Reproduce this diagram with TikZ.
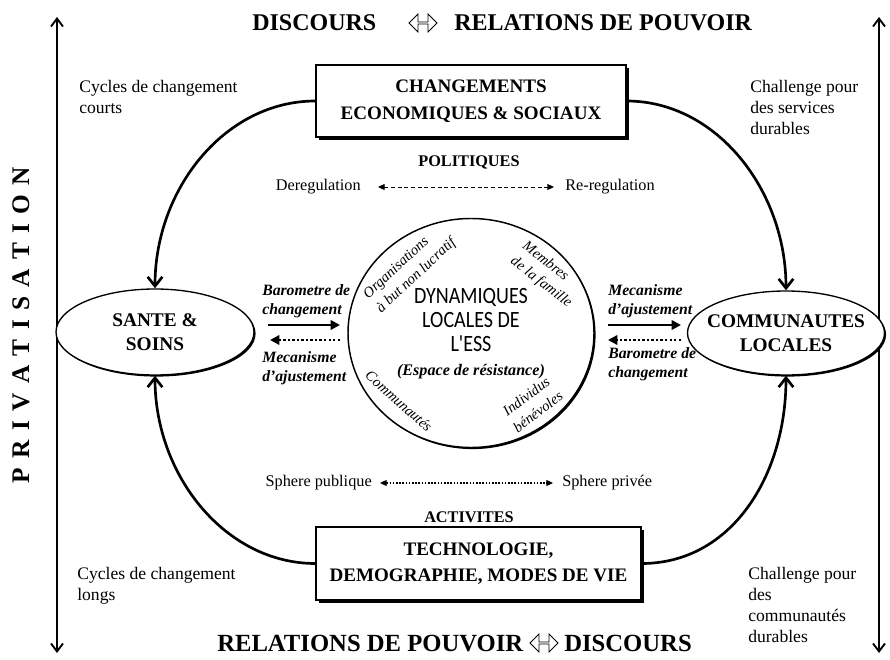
\documentclass[tikz,border=0pt]{standalone}
\usepackage{fontspec}
\setmainfont{Liberation Serif}
\newfontfamily\essfont[FakeStretch=0.86]{Carlito}
\usetikzlibrary{arrows.meta,shapes.geometric,shapes.arrows,shadows}
\newcommand\privsp{\hspace{7pt}}
\begin{document}
\begin{tikzpicture}[x=0.75pt,y=-0.75pt,
  bigbox/.style={draw,line width=0.9pt,fill=white,align=center,inner sep=0pt,
    font=\fontsize{14.3}{20}\selectfont\bfseries,
    drop shadow={shadow xshift=2.2pt,shadow yshift=-2.2pt,fill=black,opacity=1}},
  oval/.style={ellipse,draw,line width=1pt,fill=white,inner sep=0pt,
    drop shadow={shadow xshift=1.2pt,shadow yshift=-1.2pt,fill=black,opacity=1}},
  ovaltxt/.style={align=center,inner sep=0pt,font=\fontsize{14.5}{18}\selectfont\bfseries},
  essbox/.style={ellipse,draw,line width=1.1pt,fill=white,inner sep=0pt,
    drop shadow={shadow xshift=1.2pt,shadow yshift=-1.2pt,fill=black,opacity=1}},
  esstxt/.style={align=center,inner sep=0pt,font=\essfont\fontsize{17.5}{18}\selectfont},
  ttl/.style={inner sep=0pt,anchor=base west,font=\fontsize{18}{20}\selectfont\bfseries},
  ttlb/.style={inner sep=0pt,anchor=base west,font=\fontsize{18.5}{20}\selectfont\bfseries},
  dblarr/.style={double arrow,draw,line width=0.6pt,minimum height=21pt,minimum width=13.5pt,
    double arrow head extend=2.5pt,inner sep=0pt},
  priv/.style={inner sep=0pt,rotate=90,font=\fontsize{19}{20}\selectfont\bfseries},
  sidetxt/.style={align=left,inner sep=0pt,anchor=north west,font=\fontsize{13.2}{15.75}\selectfont},
  midlbl/.style={inner sep=0pt,font=\fontsize{12.2}{14}\selectfont},
  headlbl/.style={inner sep=0pt,font=\fontsize{12.2}{14}\selectfont\bfseries},
  baro/.style={align=left,inner sep=0pt,anchor=north west,font=\fontsize{11.8}{14.5}\selectfont\bfseries\itshape},
  smallit/.style={align=left,inner sep=0pt,font=\fontsize{11}{14.5}\selectfont\itshape},
  looparr/.style={line width=2pt,-{Straight Barb[length=7pt,width=11pt]}},
  sidearr/.style={line width=1.4pt,{Straight Barb[length=6pt,width=9pt]}-{Straight Barb[length=6pt,width=9pt]}},
  solidarr/.style={line width=2.2pt,-{Triangle[length=7pt,width=7pt]}},
  dotarr/.style={line width=2.2pt,dash pattern=on 1.8pt off 1.6pt,-{Triangle[length=7pt,width=7pt]}},
  dasharr/.style={line width=0.7pt,dash pattern=on 3pt off 2pt,{Triangle[length=5pt,width=4.5pt]}-{Triangle[length=5pt,width=4.5pt]}},
  dotdarr/.style={line width=0.8pt,dash pattern=on 1.2pt off 1.2pt,{Triangle[length=5pt,width=4.5pt]}-{Triangle[length=5pt,width=4.5pt]}}
]
\useasboundingbox (0,0) rectangle (890,660);
\fill[white] (0,0) rectangle (890,660);

% side arrows
\coordinate (ltop) at (57,17);
\coordinate (lbot) at (57,653);
\coordinate (rtop) at (879,17);
\coordinate (rbot) at (879,653);
\draw[sidearr] (lbot) -- (ltop);
\draw[sidearr] (rbot) -- (rtop);

% privatisation
\node[priv] (priv) at (21,325) {P\privsp R\privsp I\privsp V\privsp A\privsp T\privsp I\privsp S\privsp A\privsp T\privsp I\privsp O\privsp N};

% titles
\node[ttl] (t1) at (252,31) {DISCOURS};
\node[dblarr] (t2) at (423,23) {};
\node[ttl] (t3) at (454,31) {RELATIONS DE POUVOIR};
\node[ttlb] (b1) at (217,651) {RELATIONS DE POUVOIR};
\node[dblarr] (b2) at (544,643) {};
\node[ttlb] (b3) at (564,651) {DISCOURS};

% boxes
\node[bigbox,minimum width=232.5pt,minimum height=54pt] (topbox) at (471,101) {CHANGEMENTS\\ECONOMIQUES \& SOCIAUX};
\node[bigbox,minimum width=243.75pt,minimum height=54.75pt] (botbox) at (478.5,563.5) {TECHNOLOGIE,\\DEMOGRAPHIE, MODES DE VIE};

% ovals
\node[oval,minimum width=148.5pt,minimum height=64.5pt] (sante) at (155,332) {};
\node[ovaltxt] (santetxt) at (sante) {SANTE \&\\SOINS};
\node[oval,minimum width=147.75pt,minimum height=63pt] (comm) at (786,333) {};
\node[ovaltxt] (commtxt) at (comm) {COMMUNAUTES\\LOCALES};

% ESS circle
\node[essbox,minimum width=184.5pt,minimum height=171.75pt] (ess) at (471,333) {};
\node[esstxt] (esst) at (471,334)
  {DYNAMIQUES\\LOCALES DE\\L'ESS\\{\rmfamily\bfseries\itshape\fontsize{12.1}{14}\selectfont (Espace de résistance)}};

% rotated inner texts
\node[smallit,rotate=43] (org) at (410,269) {Organisations\\à but non lucratif};
\node[smallit,rotate=-38] (mem) at (547,275) {Membres\\de la famille};
\node[smallit,rotate=-42] (cmt) at (399,401) {Communautés};
\node[smallit,align=center,rotate=37] (ind) at (532,404) {Individus\\bénévoles};

% side texts
\node[sidetxt] (cyc1) at (79,80) {Cycles de changement\\courts};
\node[sidetxt] (chal1) at (750,80) {Challenge pour\\des services\\durables};
\node[sidetxt] (cyc2) at (77,567) {Cycles de changement\\longs};
\node[sidetxt] (chal2) at (748,567) {Challenge pour\\des\\communautés\\durables};

% middle labels
\node[headlbl] (pol) at (469,162) {POLITIQUES};
\node[midlbl,anchor=mid east] (dereg) at (361,187) {Deregulation};
\node[midlbl,anchor=mid west] (rereg) at (565,187) {Re-regulation};
\node[midlbl,anchor=mid east] (sphpub) at (372,483) {Sphere publique};
\node[midlbl,anchor=mid west] (sphpriv) at (562,483) {Sphere privée};
\node[headlbl] (act) at (469,517) {ACTIVITES};

% barometer texts
\node[baro] (lbaro) at (262,284) {Barometre de\\changement};
\node[baro] (lmeca) at (262,351) {Mecanisme\\d'ajustement};
\node[baro] (rmeca) at (608,284) {Mecanisme\\d'ajustement};
\node[baro] (rbaro) at (608,347) {Barometre de\\changement};

% connectors: main loop
\draw[looparr] (topbox.west) .. controls +(-90,0) and +(0,-100) .. (sante.north);
\draw[looparr] (topbox.east) .. controls +(90,0) and +(0,-100) .. (comm.north);
\draw[looparr] (botbox.west) .. controls +(-90,0) and +(0,100) .. (sante.south);
\draw[looparr] (botbox.east) .. controls +(90,0) and +(0,100) .. (comm.south);

% barometer arrows
\coordinate (ls1) at (268,325); \coordinate (ls2) at (340,325);
\coordinate (ld1) at (340,340); \coordinate (ld2) at (270,340);
\coordinate (rs1) at (608,325); \coordinate (rs2) at (681,325);
\coordinate (rd1) at (681,340); \coordinate (rd2) at (608,340);
\draw[solidarr] (ls1) -- (ls2);
\draw[dotarr] (ld1) -- (ld2);
\draw[solidarr] (rs1) -- (rs2);
\draw[dotarr] (rd1) -- (rd2);

% policy / sphere arrows
\draw[dasharr] ([xshift=12.75pt]dereg.mid east) -- ([xshift=-8.25pt]rereg.mid west);
\draw[dotdarr] ([xshift=6pt]sphpub.mid east) -- ([xshift=-6.75pt]sphpriv.mid west);
\end{tikzpicture}
\end{document}
